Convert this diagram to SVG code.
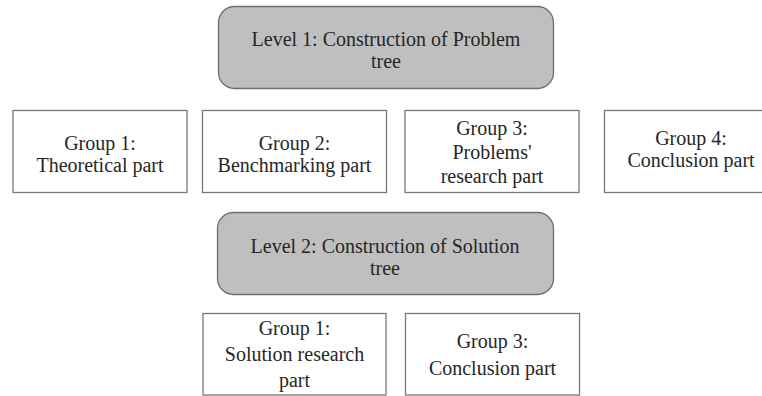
<svg xmlns="http://www.w3.org/2000/svg" width="762" height="396" viewBox="0 0 762 396">
  <style>
    .level { fill: #bfbfbf; stroke: #6e6e6e; stroke-width: 1.3; }
    .group { fill: #ffffff; stroke: #777777; stroke-width: 1.3; }
    text { font-family: "Liberation Serif", "Times New Roman", serif; font-size: 20px; fill: #262626; text-anchor: middle; }
  </style>
  <rect width="762" height="396" fill="#ffffff"/>

  <!-- Level 1 -->
  <g id="level1">
    <rect class="level" x="218.5" y="6.5" width="335" height="82" rx="16" ry="16"/>
    <text x="386" y="46">Level 1: Construction of Problem</text>
    <text x="386" y="68">tree</text>
  </g>

  <!-- Level 1 groups -->
  <g id="l1-group1">
    <rect class="group" x="13" y="110.5" width="174" height="82"/>
    <text x="100" y="150">Group 1:</text>
    <text x="100" y="172">Theoretical part</text>
  </g>
  <g id="l1-group2">
    <rect class="group" x="202.5" y="110.5" width="184" height="82"/>
    <text x="294.5" y="150">Group 2:</text>
    <text x="294.5" y="172">Benchmarking part</text>
  </g>
  <g id="l1-group3">
    <rect class="group" x="405" y="110.5" width="174" height="82"/>
    <text x="492" y="135">Group 3:</text>
    <text x="492" y="159">Problems'</text>
    <text x="492" y="183">research part</text>
  </g>
  <g id="l1-group4">
    <rect class="group" x="604.5" y="110.5" width="174" height="82"/>
    <text x="691" y="145">Group 4:</text>
    <text x="691" y="167">Conclusion part</text>
  </g>

  <!-- Level 2 -->
  <g id="level2">
    <rect class="level" x="217.5" y="212.5" width="336" height="82" rx="16" ry="16"/>
    <text x="385" y="253">Level 2: Construction of Solution</text>
    <text x="385" y="275">tree</text>
  </g>

  <!-- Level 2 groups -->
  <g id="l2-group1">
    <rect class="group" x="203" y="313.5" width="183" height="81.5"/>
    <text x="294.5" y="335">Group 1:</text>
    <text x="294.5" y="361">Solution research</text>
    <text x="294.5" y="387">part</text>
  </g>
  <g id="l2-group3">
    <rect class="group" x="405.5" y="313.5" width="174" height="81.5"/>
    <text x="492.5" y="348">Group 3:</text>
    <text x="492.5" y="375">Conclusion part</text>
  </g>

  <g id="connectors"></g>
</svg>
